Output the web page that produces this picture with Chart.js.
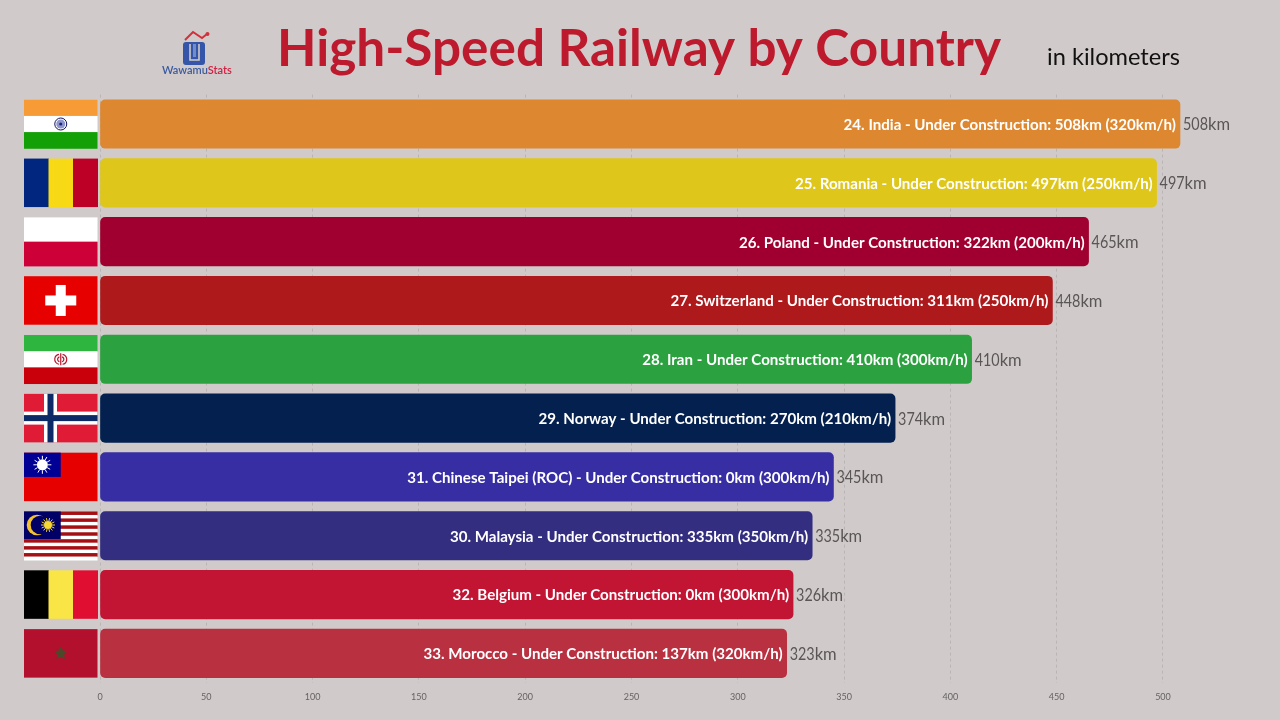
<!DOCTYPE html>
<html>
<head>
<meta charset="utf-8">
<title>High-Speed Railway by Country</title>
<script src="https://cdn.jsdelivr.net/npm/chart.js@4/dist/chart.umd.min.js"></script>
<style>
html,body{margin:0;padding:0;background:#d0cbca;overflow:hidden}
canvas{display:block}
</style>
</head>
<body>
<canvas id="myChart" width="1280" height="720"></canvas>
<script>
const countries = ['India','Romania','Poland','Switzerland','Iran','Norway','Chinese Taipei (ROC)','Malaysia','Belgium','Morocco'];
const ranks = [24,25,26,27,28,29,31,30,32,33];
const totalKm = [508,497,465,448,410,374,345,335,326,323];
const constructionKm = [508,497,322,311,410,270,0,335,0,137];
const speedKmh = [320,250,200,250,300,210,300,350,300,320];
const barColors = ['#dd8830','#dfc61a','#a00030','#ae191c','#2ca140','#03204f','#372ea4','#332e80','#c21433','#b93040'];
const xTicks = [0,50,100,150,200,250,300,350,400,450,500];

const FONT = 'Lato, "Open Sans", sans-serif';

function vStripes(c, x, y, w, h, cols) {
  cols.forEach((col, i) => { c.fillStyle = col; c.fillRect(x + i * w / 3, y, w / 3 + 0.5, h); });
}
function hStripes(c, x, y, w, h, cols) {
  cols.forEach((col, i) => { c.fillStyle = col; c.fillRect(x, y + i * h / cols.length, w, h / cols.length + 0.5); });
}
function sun(c, cx, cy, r, rays, len, col) {
  c.strokeStyle = col; c.fillStyle = col; c.lineWidth = 1;
  for (let i = 0; i < rays; i++) {
    const a = i * Math.PI * 2 / rays;
    c.beginPath();
    c.moveTo(cx + Math.cos(a) * r, cy + Math.sin(a) * r);
    c.lineTo(cx + Math.cos(a) * (r + len), cy + Math.sin(a) * (r + len));
    c.stroke();
  }
  c.beginPath(); c.arc(cx, cy, r, 0, Math.PI * 2); c.fill();
}

// one small painter per flag, in the same order as countries
const flagPainters = {
  India(c, x, y, w, h) {
    hStripes(c, x, y, w, h, ['#f79b37', '#ffffff', '#12a006']);
    c.strokeStyle = '#14145e'; c.lineWidth = 1;
    c.beginPath(); c.arc(x + w / 2, y + h / 2, 6, 0, Math.PI * 2); c.stroke();
    c.fillStyle = '#8c96cc'; c.beginPath(); c.arc(x + w / 2, y + h / 2, 4.5, 0, Math.PI * 2); c.fill();
    c.fillStyle = '#24247a'; c.beginPath(); c.arc(x + w / 2, y + h / 2, 1.6, 0, Math.PI * 2); c.fill();
  },
  Romania(c, x, y, w, h) { vStripes(c, x, y, w, h, ['#002680', '#f8d916', '#bd0026']); },
  Poland(c, x, y, w, h) { hStripes(c, x, y, w, h, ['#ffffff', '#cd0038']); },
  Switzerland(c, x, y, w, h) {
    c.fillStyle = '#e60000'; c.fillRect(x, y, w, h);
    c.fillStyle = '#ffffff';
    c.fillRect(x + w / 2 - 5, y + h / 2 - 15.5, 10, 31);
    c.fillRect(x + w / 2 - 15.5, y + h / 2 - 5, 31, 10);
  },
  Iran(c, x, y, w, h) {
    hStripes(c, x, y, w, h, ['#2db540', '#ffffff', '#c9000c']);
    const cx = x + w / 2, cy = y + h / 2;
    c.strokeStyle = '#b8132a'; c.lineWidth = 1.2;
    c.beginPath(); c.arc(cx - 1, cy, 5, Math.PI * 0.55, Math.PI * 1.45); c.stroke();
    c.beginPath(); c.arc(cx + 1, cy, 5, -Math.PI * 0.45, Math.PI * 0.45); c.stroke();
    c.beginPath(); c.arc(cx - 0.5, cy, 2.6, Math.PI * 0.6, Math.PI * 1.4); c.stroke();
    c.beginPath(); c.arc(cx + 0.5, cy, 2.6, -Math.PI * 0.4, Math.PI * 0.4); c.stroke();
    c.beginPath(); c.moveTo(cx, cy - 6); c.lineTo(cx, cy + 6); c.stroke();
  },
  Norway(c, x, y, w, h) {
    c.fillStyle = '#e01b36'; c.fillRect(x, y, w, h);
    c.fillStyle = '#ffffff';
    c.fillRect(x + 20, y, 13, h); c.fillRect(x, y + h / 2 - 6.5, w, 13);
    c.fillStyle = '#0b2a66';
    c.fillRect(x + 23.5, y, 6, h); c.fillRect(x, y + h / 2 - 3, w, 6);
  },
  'Chinese Taipei (ROC)'(c, x, y, w, h) {
    c.fillStyle = '#e60000'; c.fillRect(x, y, w, h);
    c.fillStyle = '#000095'; c.fillRect(x, y, w / 2, h / 2);
    sun(c, x + w / 4, y + h / 4, 5.5, 12, 3.5, '#ffffff');
  },
  Malaysia(c, x, y, w, h) {
    const cols = [];
    for (let i = 0; i < 14; i++) cols.push(i % 2 ? '#ffffff' : '#a50f14');
    hStripes(c, x, y, w, h, cols);
    c.fillStyle = '#000066'; c.fillRect(x, y, w / 2, h * 4 / 7);
    c.fillStyle = '#f2c230';
    c.beginPath(); c.arc(x + 13, y + 13.5, 10.3, 0, Math.PI * 2); c.fill();
    c.fillStyle = '#000066';
    c.beginPath(); c.arc(x + 16, y + 13.5, 9.3, 0, Math.PI * 2); c.fill();
    sun(c, x + 24, y + 13.5, 4, 14, 3, '#f7d732');
  },
  Belgium(c, x, y, w, h) { vStripes(c, x, y, w, h, ['#000000', '#f9e545', '#e00f32']); },
  Morocco(c, x, y, w, h) {
    c.fillStyle = '#b2102c'; c.fillRect(x, y, w, h);
    c.fillStyle = '#4a4a2a'; c.beginPath();
    for (let i = 0; i < 10; i++) {
      const r = i % 2 ? 3.6 : 7, a = -Math.PI / 2 + i * Math.PI / 5;
      c.lineTo(x + w / 2 + Math.cos(a) * r, y + h / 2 + Math.sin(a) * r);
    }
    c.closePath(); c.fill();
  }
};

function drawLogo(c) {
  c.fillStyle = '#3555a8';
  c.beginPath(); c.roundRect(183, 42, 22, 23, 3); c.fill();
  c.fillStyle = '#6f8dcc'; c.fillRect(193, 44, 3, 13);
  c.strokeStyle = '#d0cbca'; c.lineWidth = 1.6;
  c.beginPath(); c.moveTo(190, 44); c.lineTo(190, 60); c.lineTo(199, 60); c.lineTo(199, 44); c.stroke();
  c.strokeStyle = '#d0313c'; c.lineWidth = 2;
  c.beginPath(); c.moveTo(185, 40); c.lineTo(193, 32); c.lineTo(202, 38); c.lineTo(207, 34); c.stroke();
  c.fillStyle = '#d0313c';
  c.beginPath(); c.arc(207.5, 34, 2, 0, Math.PI * 2); c.fill();
  c.font = '600 11px ' + FONT; c.textAlign = 'left'; c.textBaseline = 'alphabetic';
  c.fillStyle = '#3a5aa0'; c.fillText('Wawamu', 162, 74);
  const off = c.measureText('Wawamu').width;
  c.fillStyle = '#cf1f42'; c.fillText('Stats', 162 + off, 74);
}

const decorations = {
  id: 'decorations',
  afterDatasetsDraw(chart) {
    const c = chart.ctx, x = chart.scales.x, y = chart.scales.y;
    const bars = chart.getDatasetMeta(0).data;
    c.save();
    c.textBaseline = 'alphabetic';

    // title and unit
    c.fillStyle = '#be1a2e'; c.font = '700 52px ' + FONT; c.textAlign = 'left';
    c.fillText('High-Speed Railway by Country', 277, 66, 724);
    c.fillStyle = '#111'; c.font = '400 24px ' + FONT;
    c.fillText('in kilometers', 1047, 65, 133);
    drawLogo(c);

    countries.forEach((name, i) => {
      const py = y.getPixelForValue(i), end = x.getPixelForValue(totalKm[i]);
      flagPainters[name](c, 24, bars[i].y - 24.25, 73.5, 48.5);
      c.textBaseline = 'middle';
      c.textAlign = 'right'; c.fillStyle = '#fff'; c.font = '700 15.1px ' + FONT;
      c.fillText(ranks[i] + '. ' + name + ' - Under Construction: ' + constructionKm[i] + 'km (' + speedKmh[i] + 'km/h)', end - 4, py + 1);
      // digits are narrow in the original, so squeeze them
      c.textAlign = 'left'; c.fillStyle = '#5a5656'; c.font = '400 17px ' + FONT;
      c.fillText(String(totalKm[i]), end + 3, py + 1, 25);
      c.font = '400 17px ' + FONT;
      c.fillText('km', end + 28, py + 1, 22);
    });
    c.restore();
  }
};

const ctx = document.getElementById('myChart').getContext('2d');
new Chart(ctx, {
  type: 'bar',
  plugins: [decorations],
  data: {
    labels: countries,
    datasets: [{
      data: totalKm,
      backgroundColor: barColors,
      borderRadius: 5,
      borderSkipped: false,
      categoryPercentage: 1,
      barThickness: 48.5
    }]
  },
  options: {
    indexAxis: 'y',
    responsive: false,
    animation: false,
    layout: { padding: { left: 100, right: 74.5, top: 94.6, bottom: 0 } },
    plugins: { legend: { display: false }, title: { display: false }, tooltip: { enabled: false } },
    scales: {
      x: {
        type: 'linear', min: 0, max: 520,
        afterBuildTicks(scale) { scale.ticks = xTicks.map(v => ({ value: v })); },
        afterFit(scale) { scale.height = 37.2; },
        border: { display: false, dash: [3, 3] },
        grid: { color: '#b9b5b4', lineWidth: 1, drawTicks: false },
        ticks: { color: '#666262', font: { size: 9, family: FONT }, padding: 9, maxRotation: 0 }
      },
      y: { display: false }
    }
  }
});
</script>
</body>
</html>
